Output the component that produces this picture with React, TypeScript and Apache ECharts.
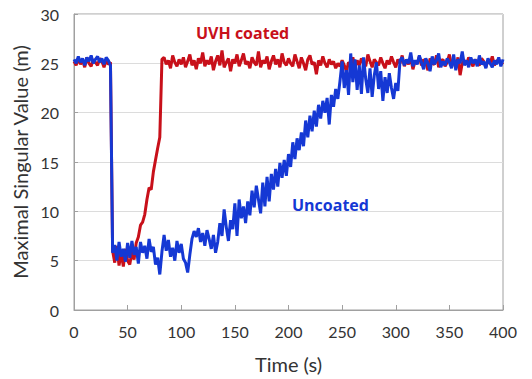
import React, { useEffect, useRef } from "react";
import * as echarts from "echarts";

const TIME_STEP = 2; // seconds between samples, starting at t = 0

const uvhCoated = [
  25.2, 24.8, 25.5, 24.9, 25.3, 24.6, 25.6, 25.0, 24.7, 25.4, 25.1, 24.8, 25.5, 25.2, 24.6, 25.3, 24.9, 25.1,
  6.0, 4.8, 6.5, 4.5, 5.8, 4.4, 6.2, 5.0, 4.6, 5.9, 5.1,
  6.8, 7.4, 8.6, 8.9, 9.7, 11.2, 12.4, 12.2, 14.0, 15.2, 16.4, 17.5, 25.4,
  25.6, 24.9, 25.3, 24.5, 25.8, 25.1, 24.7, 25.4, 24.9, 25.6,
  24.6, 25.2, 25.9, 24.8, 25.3, 24.4, 25.5, 25.0, 26.1, 24.7,
  25.3, 24.9, 25.7, 24.3, 25.2, 25.8, 24.8, 26.3, 24.6, 25.1,
  25.5, 24.2, 25.4, 25.0, 25.9, 24.7, 25.3, 26.0, 24.9, 25.2,
  24.5, 25.6, 25.1, 24.8, 26.2, 24.6, 25.3, 25.0, 25.7, 24.4,
  25.2, 25.8, 24.9, 25.4, 24.6, 26.0, 25.1, 24.8, 25.5, 25.0,
  24.7, 25.9, 25.2, 24.5, 25.6, 25.0, 24.3, 25.4, 25.8, 24.9,
  25.1, 23.9, 25.3, 24.8, 25.7, 25.0, 24.6, 25.4, 24.9, 25.2,
  24.5, 25.0, 24.7, 25.3, 24.8, 24.2, 25.1, 24.9, 25.6, 24.6,
  25.3, 24.8, 25.5, 25.0, 24.7, 25.9, 25.2, 24.6, 25.4, 25.1,
  24.8, 25.6, 25.0, 24.5, 25.3, 24.9, 25.7, 25.1, 24.6, 25.4,
  25.0, 25.8, 24.7, 25.3, 24.9, 25.6, 24.4, 25.2, 25.0, 25.7,
  24.8, 25.4, 25.1, 24.3, 25.5, 25.0, 24.9, 25.8, 24.6, 25.2,
  25.4, 24.7, 25.1, 25.9, 24.8, 25.3, 24.5, 25.6, 23.8, 25.0,
  25.3, 24.9, 25.6, 25.1, 24.7, 25.4, 25.0, 24.8, 25.5, 25.2,
  24.6, 25.3, 25.0, 25.7, 24.8, 25.2, 25.4, 24.9, 25.1,
];

const uncoated = [
  25.4, 25.0, 25.7, 25.1, 25.5, 24.8, 25.6, 25.2, 25.8, 25.0, 25.4, 25.7, 25.1, 25.5, 24.9, 25.6, 25.3, 24.8,
  5.8, 6.6, 5.0, 6.9, 5.4, 6.2, 4.9, 6.8, 5.3, 7.0,
  5.6, 6.4, 4.7, 6.9, 5.8, 6.5, 5.2, 7.2, 5.9, 6.4,
  4.6, 5.3, 3.6, 5.9, 7.6, 6.0, 7.1, 5.4, 6.3, 5.0,
  7.0, 5.8, 6.7, 5.2, 4.8, 3.8, 5.6, 7.2,
  8.0, 7.4, 8.3, 6.9, 7.8, 6.5, 8.1, 7.2, 6.2, 7.6,
  5.8, 6.9, 8.8, 7.5, 10.2, 8.4, 7.0, 9.1, 8.2, 10.8,
  7.5, 11.2, 9.3, 10.5, 8.8, 11.0, 9.6, 12.1, 10.4, 12.6,
  11.2, 9.8, 12.9, 10.5, 13.5, 11.0, 13.8, 12.2, 14.3, 12.5,
  14.9, 13.4, 15.2, 13.6, 15.8, 14.5, 17.0, 15.3, 17.4, 16.2,
  18.0, 16.6, 19.2, 17.5, 19.7, 18.1, 20.2, 18.6, 20.8, 19.4,
  21.2, 20.0, 21.5, 18.8, 21.8, 20.6, 22.4, 21.4, 23.2,
  25.2, 22.5, 24.3, 21.8, 26.0, 23.1, 25.4, 22.3, 24.8, 21.9,
  25.6, 23.4, 22.0, 24.5, 21.6, 23.8, 25.1, 22.4, 24.2, 21.2,
  23.6, 22.0, 24.0, 22.5, 21.4, 23.0, 22.2, 25.3,
  25.6, 24.8, 25.4, 25.0, 26.1, 24.7, 25.3, 24.9, 25.8, 25.1,
  24.4, 25.5, 25.0, 24.2, 25.7, 24.9, 25.3, 26.0, 24.6, 25.2,
  24.8, 25.5, 25.1, 24.5, 25.9, 24.3, 25.4, 25.0, 26.2, 24.8,
  25.3, 24.6, 25.6, 25.0, 25.4, 24.7, 25.8, 24.9, 25.2, 24.5,
  25.5, 25.0, 24.6, 25.3, 24.9, 25.6, 24.7, 25.4,
];

const xTicks = [0, 50, 100, 150, 200, 250, 300, 350, 400];
const yTicks = [0, 5, 10, 15, 20, 25, 30];

const AXIS_FONT = "Lato, 'Open Sans', sans-serif";
const LABEL_FONT = "'Open Sans', 'Noto Sans', sans-serif";

export default function App() {
  const ref = useRef<HTMLDivElement>(null);
  useEffect(() => {
    if (!ref.current) return;
    const chart = echarts.init(ref.current, undefined, { renderer: "svg" });
    const toPairs = (arr: number[]) => arr.map((v, i) => [i * TIME_STEP, v]);
    chart.setOption({
      animation: false,
      backgroundColor: "#ffffff",
      grid: {
        left: 74,
        right: 29,
        top: 14,
        bottom: 66,
        show: true,
        borderColor: "#a0a0a0",
        borderWidth: 1,
      },
      xAxis: {
        type: "value",
        min: xTicks[0],
        max: xTicks[xTicks.length - 1],
        interval: 50,
        name: "Time (s)",
        nameLocation: "middle",
        nameGap: 44,
        nameTextStyle: { fontFamily: AXIS_FONT, fontSize: 20, color: "#333" },
        axisLine: { show: true, lineStyle: { color: "#a0a0a0", width: 1 } },
        axisTick: { show: true, inside: true, length: 5, lineStyle: { color: "#a0a0a0" } },
        axisLabel: { fontFamily: AXIS_FONT, fontSize: 16, color: "#333", margin: 13 },
        splitLine: { show: false },
      },
      yAxis: {
        type: "value",
        min: yTicks[0],
        max: yTicks[yTicks.length - 1],
        interval: 5,
        name: "Maximal Singular Value (m)",
        nameLocation: "middle",
        nameGap: 39,
        nameTextStyle: { fontFamily: AXIS_FONT, fontSize: 20, color: "#333" },
        axisLine: { show: true, lineStyle: { color: "#a0a0a0", width: 1 } },
        axisTick: { show: true, inside: true, length: 4, lineStyle: { color: "#a0a0a0" } },
        axisLabel: { fontFamily: AXIS_FONT, fontSize: 16, color: "#333", margin: 15 },
        splitLine: { show: true, lineStyle: { color: "#dcdcdc", width: 1 } },
      },
      series: [
        {
          name: "UVH coated",
          type: "line",
          data: toPairs(uvhCoated),
          showSymbol: false,
          lineStyle: { color: "#c8101a", width: 3 },
          itemStyle: { color: "#c8101a" },
          z: 2,
        },
        {
          name: "Uncoated",
          type: "line",
          data: toPairs(uncoated),
          showSymbol: false,
          lineStyle: { color: "#1538d4", width: 3 },
          itemStyle: { color: "#1538d4" },
          z: 3,
        },
      ],
      graphic: [
        {
          type: "text",
          left: 196,
          top: 25,
          style: {
            text: "UVH coated",
            fill: "#c8101a",
            font: `bold 16px ${LABEL_FONT}`,
          },
        },
        {
          type: "text",
          left: 292,
          top: 197,
          style: {
            text: "Uncoated",
            fill: "#1538d4",
            font: `bold 16px ${LABEL_FONT}`,
          },
        },
      ],
    });
    return () => chart.dispose();
  }, []);
  return (
    <div
      ref={ref}
      style={{ position: "fixed", left: 0, top: 0, width: 532, height: 379 }}
    />
  );
}
